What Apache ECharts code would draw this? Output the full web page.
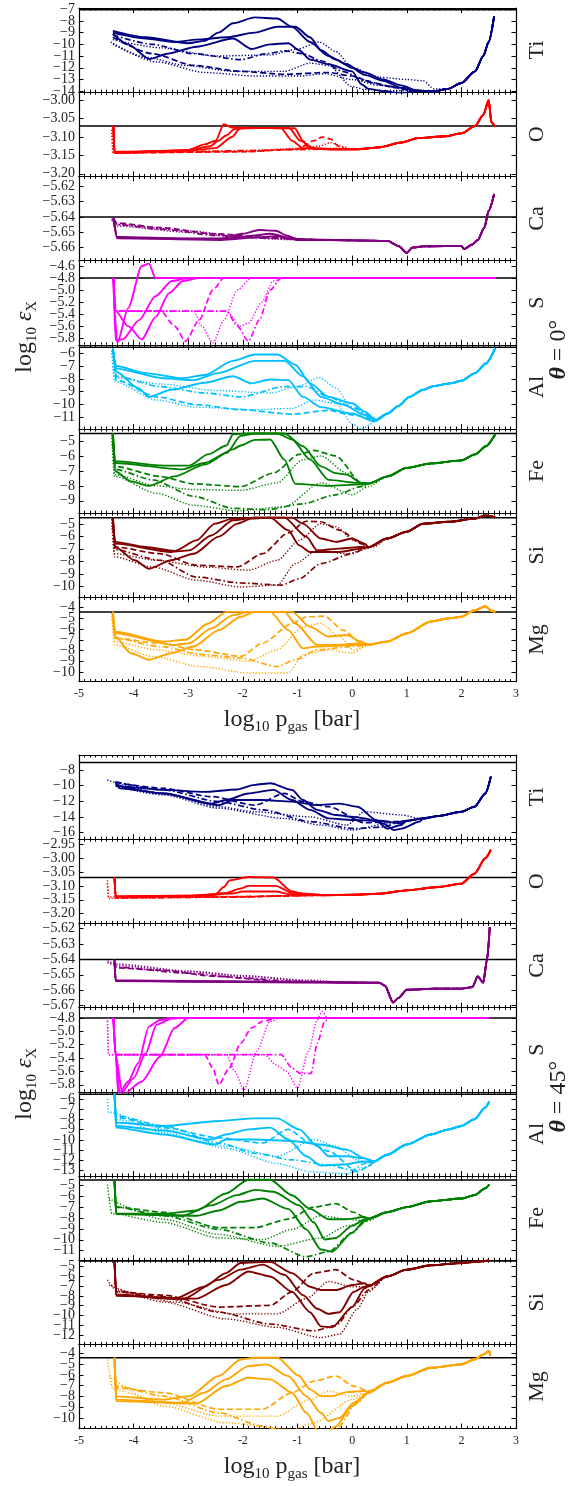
<!DOCTYPE html>
<html>
<head>
<meta charset="utf-8">
<script src="https://cdn.jsdelivr.net/npm/echarts@6.0.0/dist/echarts.min.js"></script>
<style>
html, body { margin: 0; background: #fff; }
#chart { width: 571px; height: 1486px; }
</style>
</head>
<body>
<div id="chart"></div>
<script>
// ---------- data: theta = 0 deg ----------
const ti0 = [
  [[-4.38,-8.85],[-3.78,-9.4],[-3.0,-9.9],[-2.7,-9.7],[-2.45,-9.0],[-2.18,-8.2],[-1.78,-7.7],[-1.37,-7.8],[-1.1,-8.5],[-0.77,-9.8],[-0.43,-11.0],[-0.1,-11.7],[0.23,-12.6],[0.57,-13.1],[0.9,-13.7]],
  [[-4.38,-9.0],[-3.78,-9.5],[-3.25,-9.8],[-2.85,-9.6],[-2.3,-9.4],[-1.78,-9.0],[-1.37,-8.5],[-1.04,-8.5],[-0.77,-9.4],[-0.57,-10.5],[-0.3,-11.3],[0.0,-12.0],[0.23,-12.4],[0.57,-13.0],[0.9,-13.5]],
  [[-4.38,-9.1],[-4.1,-10.0],[-3.71,-11.25],[-3.38,-10.8],[-2.85,-10.2],[-2.18,-9.5],[-1.84,-10.4],[-1.5,-10.0],[-1.17,-9.9],[-0.97,-10.5],[-0.77,-11.3],[-0.43,-11.7],[0.0,-12.3],[0.17,-13.4],[0.3,-13.8],[0.6,-14.0],[0.9,-14.2]],
  [[-4.38,-9.2],[-3.65,-10.0],[-2.9,-10.8],[-2.04,-11.3],[-1.57,-10.8],[-1.24,-10.55],[-0.9,-10.8],[-0.57,-11.4],[-0.17,-12.3],[0.23,-13.1],[0.64,-13.55],[1.0,-13.85]],
  [[-4.38,-9.4],[-3.65,-10.8],[-2.9,-11.8],[-2.04,-12.3],[-1.24,-12.55],[-0.43,-12.4],[0.0,-12.7],[0.4,-13.3],[0.8,-13.7]],
  [[-4.42,-9.8],[-3.78,-11.1],[-3.05,-11.8],[-2.18,-12.3],[-1.24,-12.3],[-0.77,-11.6],[-0.43,-11.8],[0.0,-13.6],[0.23,-13.85],[0.6,-13.95]],
  [[-4.38,-10.0],[-3.58,-11.5],[-2.7,-12.4],[-1.78,-12.7],[-0.97,-12.7],[-0.5,-12.5],[0.0,-13.0],[0.5,-13.5]],
  [[-4.38,-9.6],[-3.5,-10.3],[-2.5,-11.0],[-1.5,-10.9],[-1.0,-10.4],[-0.6,-9.8],[-0.3,-10.6],[0.0,-12.0],[0.5,-12.8],[1.0,-13.0],[1.3,-13.1],[1.5,-13.8]]
];
const ti0Tail = [[1.2,-13.95],[1.5,-14.0],[1.75,-13.8],[2.0,-13.3],[2.25,-12.3],[2.4,-11.0],[2.5,-9.8],[2.6,-7.6]];

const o0 = [
  [[-4.37,-3.07],[-4.35,-3.14],[-3.5,-3.138],[-3.0,-3.135],[-2.7,-3.12],[-2.5,-3.11],[-2.35,-3.065],[-2.2,-3.074],[-1.7,-3.075],[-1.3,-3.076],[-1.1,-3.11],[-0.9,-3.13],[-0.5,-3.133]],
  [[-4.37,-3.07],[-4.35,-3.142],[-3.0,-3.136],[-2.6,-3.125],[-2.45,-3.11],[-2.3,-3.095],[-2.15,-3.078],[-1.8,-3.075],[-1.15,-3.076],[-0.95,-3.11],[-0.7,-3.13],[-0.4,-3.133]],
  [[-4.37,-3.07],[-4.35,-3.143],[-3.0,-3.137],[-2.5,-3.13],[-2.2,-3.1],[-2.05,-3.076],[-1.5,-3.075],[-1.05,-3.076],[-0.9,-3.11],[-0.8,-3.13],[-0.4,-3.133]],
  [[-4.37,-3.07],[-4.35,-3.143],[-3.0,-3.14],[-2.0,-3.137],[-1.0,-3.134],[-0.5,-3.133]],
  [[-4.37,-3.07],[-4.35,-3.143],[-2.0,-3.14],[-1.0,-3.133],[-0.7,-3.11],[-0.55,-3.10],[-0.4,-3.105],[-0.25,-3.125],[-0.1,-3.133]],
  [[-4.4,-3.08],[-4.38,-3.143],[-2.0,-3.14],[-1.0,-3.133],[-0.6,-3.125],[-0.4,-3.115],[-0.2,-3.125],[0.0,-3.133]],
  [[-4.4,-3.08],[-4.38,-3.14],[-2.0,-3.138],[-1.0,-3.131],[-0.3,-3.13],[0.0,-3.133]]
];
const o0Tail = [[0.1,-3.133],[0.5,-3.128],[0.9,-3.115],[1.2,-3.103],[1.7,-3.098],[2.0,-3.09],[2.25,-3.07],[2.4,-3.04],[2.5,-3.0],[2.55,-3.06],[2.62,-3.072]];

const ca0 = [
  [[-4.37,-5.64],[-4.3,-5.653],[-3.0,-5.654],[-2.4,-5.654],[-2.0,-5.651],[-1.7,-5.6485],[-1.4,-5.649],[-1.2,-5.652],[-1.0,-5.6545]],
  [[-4.37,-5.641],[-4.3,-5.6535],[-2.4,-5.6545],[-1.9,-5.6525],[-1.5,-5.651],[-1.15,-5.6535],[-1.0,-5.655]],
  [[-4.37,-5.641],[-4.3,-5.654],[-2.4,-5.655],[-1.8,-5.6535],[-1.4,-5.6525],[-1.1,-5.6545],[-0.9,-5.655]],
  [[-4.37,-5.641],[-4.3,-5.645],[-3.5,-5.648],[-2.5,-5.652],[-1.5,-5.654],[-0.5,-5.655]],
  [[-4.37,-5.641],[-4.3,-5.644],[-3.5,-5.647],[-2.5,-5.651],[-1.5,-5.6535],[-0.5,-5.655]],
  [[-4.4,-5.642],[-4.3,-5.645],[-3.0,-5.649],[-2.0,-5.653],[-1.0,-5.6545],[-0.3,-5.655]],
  [[-4.4,-5.641],[-4.3,-5.646],[-3.0,-5.650],[-2.0,-5.6535],[-1.0,-5.655],[-0.3,-5.655]]
];
const ca0Tail = [[0.0,-5.6553],[0.65,-5.6556],[0.85,-5.659],[1.0,-5.6635],[1.1,-5.660],[1.3,-5.6592],[1.7,-5.659],[2.0,-5.659],[2.05,-5.661],[2.2,-5.658],[2.3,-5.655],[2.42,-5.647],[2.5,-5.636],[2.6,-5.625]];

const s0 = [
  [[-4.37,-4.8],[-4.35,-5.35],[-4.3,-5.88],[-4.1,-5.3],[-3.85,-4.6],[-3.72,-4.56],[-3.6,-4.8]],
  [[-4.37,-4.8],[-4.33,-5.83],[-4.2,-5.82],[-3.9,-5.5],[-3.6,-5.1],[-3.3,-4.85],[-3.0,-4.8]],
  [[-4.37,-4.8],[-4.33,-5.35],[-4.1,-5.6],[-3.85,-5.82],[-3.6,-5.45],[-3.35,-5.05],[-3.1,-4.85],[-2.8,-4.8]],
  [[-4.37,-4.8],[-4.33,-5.35],[-2.3,-5.35],[-2.1,-5.6],[-1.9,-5.85],[-1.7,-5.5],[-1.5,-5.0],[-1.3,-4.8]],
  [[-4.37,-4.8],[-4.33,-5.35],[-3.5,-5.35],[-3.25,-5.6],[-3.05,-5.85],[-2.8,-5.5],[-2.55,-5.0],[-2.35,-4.8]],
  [[-4.37,-4.8],[-4.33,-5.35],[-2.9,-5.35],[-2.75,-5.6],[-2.55,-5.88],[-2.35,-5.5],[-2.1,-5.0],[-1.85,-4.8]],
  [[-4.37,-4.8],[-4.33,-5.35],[-2.3,-5.35],[-2.05,-5.6],[-1.9,-5.55],[-1.65,-5.2],[-1.45,-4.85],[-1.25,-4.8]]
];
const s0Tail = [[2.62,-4.8]];

const al0 = [
  [[-4.38,-5.6],[-4.35,-6.6],[-4.32,-7.0],[-3.78,-7.55],[-3.11,-7.95],[-2.7,-7.7],[-2.18,-6.6],[-1.78,-6.1],[-1.37,-6.1],[-1.04,-6.9],[-0.77,-8.35],[-0.43,-9.4],[0.0,-9.9],[0.23,-10.55],[0.44,-11.2]],
  [[-4.38,-5.6],[-4.32,-7.2],[-3.45,-7.95],[-2.9,-8.1],[-2.45,-7.55],[-1.78,-6.6],[-1.24,-6.6],[-0.9,-7.8],[-0.57,-9.4],[-0.17,-10.0],[0.23,-10.8],[0.44,-11.3]],
  [[-4.38,-5.6],[-4.32,-7.45],[-3.92,-8.7],[-3.72,-9.4],[-3.31,-8.85],[-2.7,-8.3],[-2.18,-7.8],[-1.84,-8.35],[-1.5,-8.05],[-1.17,-8.1],[-0.9,-9.4],[-0.57,-10.2],[0.0,-10.7],[0.4,-11.3]],
  [[-4.38,-5.6],[-4.32,-7.8],[-3.52,-8.6],[-2.7,-9.1],[-2.04,-9.4],[-1.24,-8.6],[-0.84,-8.6],[-0.43,-9.4],[0.0,-10.2],[0.4,-11.0]],
  [[-4.38,-5.6],[-4.32,-8.1],[-3.58,-9.4],[-2.85,-10.0],[-2.04,-10.4],[-1.1,-10.75],[-0.43,-10.45],[0.0,-10.8],[0.4,-11.1]],
  [[-4.4,-5.8],[-4.35,-8.2],[-3.58,-9.65],[-2.85,-10.2],[-1.78,-10.4],[-1.1,-10.3],[-0.7,-9.65],[-0.3,-9.9],[0.0,-11.5],[0.17,-11.9],[0.4,-11.4]],
  [[-4.4,-5.8],[-4.35,-7.9],[-3.5,-8.4],[-2.5,-8.9],[-1.5,-9.1],[-1.0,-8.6],[-0.6,-7.9],[-0.3,-8.7],[0.0,-10.3],[0.4,-11.1]]
];
const al0Tail = [[0.45,-11.2],[0.65,-10.7],[0.85,-10.1],[1.05,-9.4],[1.3,-8.85],[1.5,-8.55],[1.8,-8.35],[2.0,-8.15],[2.25,-7.55],[2.45,-6.8],[2.62,-5.6]];

const fe0 = [
  [[-4.38,-4.5],[-4.34,-6.35],[-3.45,-6.65],[-2.98,-6.65],[-2.64,-5.9],[-2.3,-5.3],[-2.18,-4.55],[-1.9,-4.5],[-1.24,-4.5],[-0.9,-5.35],[-0.57,-6.7],[-0.3,-7.15],[-0.1,-7.25],[0.17,-7.8]],
  [[-4.38,-4.5],[-4.34,-6.47],[-3.11,-6.9],[-2.7,-6.47],[-2.3,-5.8],[-2.04,-4.66],[-1.78,-4.5],[-1.37,-4.5],[-1.1,-4.9],[-0.77,-6.25],[-0.43,-7.6],[0.1,-7.8]],
  [[-4.38,-4.5],[-4.34,-7.03],[-4.05,-7.7],[-3.72,-8.0],[-3.25,-7.37],[-2.7,-6.58],[-2.18,-5.56],[-2.04,-5.3],[-1.78,-4.93],[-1.5,-4.9],[-1.24,-6.25],[-1.04,-7.87],[-0.43,-8.0],[0.17,-7.9]],
  [[-4.38,-4.5],[-4.34,-6.9],[-3.65,-7.6],[-2.9,-8.7],[-2.18,-9.5],[-1.57,-9.6],[-0.9,-9.2],[-0.3,-8.6],[0.17,-8.05]],
  [[-4.38,-4.5],[-4.34,-6.7],[-3.52,-7.37],[-2.9,-7.87],[-2.04,-8.05],[-1.44,-7.15],[-0.97,-5.9],[-0.7,-5.63],[-0.3,-6.0],[0.17,-7.8]],
  [[-4.4,-4.6],[-4.35,-7.25],[-3.58,-8.0],[-2.9,-8.25],[-2.04,-8.3],[-1.37,-7.8],[-0.9,-6.25],[-0.57,-6.0],[-0.1,-7.15],[0.23,-8.05]],
  [[-4.4,-4.6],[-4.35,-7.37],[-3.58,-8.5],[-2.9,-9.3],[-2.1,-9.67],[-1.24,-9.4],[-0.57,-7.8],[0.0,-8.6],[0.3,-8.05]]
];
const fe0Tail = [[0.3,-7.85],[0.65,-7.37],[1.0,-6.8],[1.45,-6.5],[2.0,-6.3],[2.25,-5.9],[2.45,-5.35],[2.62,-4.55]];

const si0 = [
  [[-4.38,-4.47],[-4.34,-6.42],[-3.78,-6.83],[-3.25,-7.15],[-2.85,-6.3],[-2.51,-4.95],[-2.18,-4.55],[-1.78,-4.47],[-1.1,-4.47],[-0.9,-4.95],[-0.57,-6.15],[-0.3,-6.42],[0.0,-6.15],[0.23,-6.56]],
  [[-4.38,-4.47],[-4.34,-6.56],[-3.31,-7.23],[-2.98,-7.1],[-2.58,-5.9],[-2.18,-4.68],[-1.78,-4.47],[-1.24,-4.47],[-0.84,-6.0],[-0.64,-7.1],[-0.23,-6.96],[0.17,-6.83]],
  [[-4.38,-4.47],[-4.34,-6.83],[-3.98,-7.9],[-3.72,-8.58],[-3.31,-7.9],[-2.9,-7.37],[-2.44,-6.0],[-2.1,-4.95],[-1.84,-4.55],[-1.5,-4.47],[-1.17,-5.48],[-0.97,-6.7],[-0.77,-7.23],[-0.23,-7.23],[0.17,-6.96]],
  [[-4.38,-4.47],[-4.34,-7.05],[-3.52,-7.9],[-2.85,-9.25],[-2.04,-9.73],[-1.3,-9.9],[-0.97,-9.4],[-0.57,-8.17],[0.0,-7.37],[0.23,-6.96]],
  [[-4.38,-4.47],[-4.34,-6.83],[-3.52,-7.37],[-2.85,-8.3],[-2.1,-8.44],[-1.64,-7.37],[-1.17,-5.7],[-0.84,-4.76],[-0.57,-4.8],[-0.23,-5.48],[0.17,-6.56]],
  [[-4.4,-4.6],[-4.35,-7.37],[-3.58,-7.9],[-2.7,-8.44],[-1.9,-8.7],[-1.37,-7.9],[-0.97,-6.3],[-0.57,-4.95],[-0.3,-5.2],[0.03,-6.3],[0.3,-6.83]],
  [[-4.4,-4.6],[-4.35,-7.63],[-3.65,-8.44],[-2.85,-9.5],[-2.04,-10.05],[-1.37,-9.9],[-1.04,-8.17],[-0.64,-7.1],[-0.1,-7.37],[0.4,-6.83]]
];
const si0Tail = [[0.3,-6.85],[0.64,-6.15],[1.0,-5.6],[1.3,-4.95],[1.77,-4.8],[2.24,-4.55],[2.44,-4.3],[2.62,-4.45]];

const mg0 = [
  [[-4.38,-4.4],[-4.34,-6.25],[-3.45,-7.17],[-3.05,-7.0],[-2.64,-5.5],[-2.3,-4.4],[-1.1,-4.4],[-0.77,-5.8],[-0.43,-6.7],[-0.1,-6.55],[0.17,-7.17]],
  [[-4.38,-4.4],[-4.34,-6.4],[-3.25,-7.48],[-2.98,-7.32],[-2.58,-5.94],[-2.18,-4.7],[-1.9,-4.4],[-1.24,-4.4],[-1.04,-5.48],[-0.64,-7.48],[-0.23,-7.48],[0.17,-7.32]],
  [[-4.38,-4.4],[-4.34,-6.7],[-4.05,-8.25],[-3.72,-8.86],[-3.31,-8.25],[-2.9,-7.63],[-2.44,-6.1],[-2.04,-4.86],[-1.78,-4.4],[-1.5,-4.4],[-1.17,-6.1],[-0.9,-7.8],[-0.64,-7.63],[0.1,-7.48]],
  [[-4.38,-4.4],[-4.34,-6.86],[-3.52,-7.63],[-2.71,-8.4],[-2.04,-8.7],[-1.37,-9.5],[-1.04,-8.86],[-0.64,-7.94],[0.0,-7.63]],
  [[-4.38,-4.4],[-4.34,-6.86],[-3.52,-7.32],[-2.85,-7.94],[-2.04,-8.55],[-1.64,-7.32],[-1.1,-5.48],[-0.84,-4.86],[-0.5,-4.8],[-0.17,-6.1],[0.17,-7.32]],
  [[-4.4,-4.5],[-4.35,-7.17],[-3.58,-7.94],[-2.71,-8.55],[-1.9,-9.0],[-1.37,-7.94],[-0.9,-5.8],[-0.57,-5.48],[-0.23,-6.7],[0.03,-7.94],[0.3,-7.48]],
  [[-4.4,-4.5],[-4.35,-7.48],[-3.65,-8.55],[-2.78,-9.5],[-1.9,-10.1],[-1.17,-10.1],[-0.9,-8.4],[-0.43,-7.94],[0.0,-8.25],[0.3,-7.48]]
];
const mg0Tail = [[0.3,-7.45],[0.64,-7.17],[1.0,-6.4],[1.44,-5.3],[1.77,-5.0],[2.0,-4.86],[2.24,-4.25],[2.44,-3.88],[2.55,-4.3],[2.62,-4.4]];

// ---------- data: theta = 45 deg ----------
const ti45 = [
  [[-4.33,-9.5],[-4.25,-10.1],[-3.45,-10.55],[-2.71,-10.8],[-2.11,-10.5],[-1.78,-9.9],[-1.5,-9.7],[-1.1,-10.55],[-0.9,-11.85],[-0.64,-13.1],[-0.3,-13.77],[0.03,-14.0],[0.23,-14.2],[0.57,-14.85],[0.77,-15.7],[0.9,-15.5],[1.24,-14.6]],
  [[-4.33,-9.7],[-4.25,-10.35],[-3.45,-11.0],[-2.58,-12.3],[-2.31,-11.85],[-1.9,-11.0],[-1.44,-10.55],[-1.1,-11.85],[-0.77,-13.1],[-0.43,-14.2],[0.0,-14.4],[0.5,-14.5],[0.9,-14.85]],
  [[-4.33,-9.9],[-3.45,-11.0],[-2.44,-12.5],[-2.18,-11.85],[-1.64,-11.85],[-1.1,-12.05],[-0.64,-12.5],[-0.23,-12.3],[0.1,-12.7],[0.44,-14.4],[0.64,-15.5],[0.9,-15.05]],
  [[-4.33,-9.5],[-3.45,-10.55],[-2.44,-12.05],[-1.64,-13.1],[-0.77,-14.6],[0.03,-15.5],[0.57,-15.3],[0.9,-14.6]],
  [[-4.33,-9.6],[-3.45,-10.35],[-2.58,-11.4],[-1.78,-12.5],[-1.24,-11.0],[-0.9,-12.05],[-0.43,-12.7],[0.23,-14.75],[0.77,-14.6]],
  [[-4.48,-9.3],[-3.45,-11.0],[-2.44,-12.7],[-1.78,-13.35],[-0.77,-14.0],[-0.1,-15.05],[0.23,-13.35],[0.9,-13.75],[1.24,-14.2]],
  [[-4.33,-10.1],[-3.45,-11.2],[-2.44,-12.9],[-1.24,-14.2],[-0.57,-15.05],[0.0,-15.7],[0.64,-14.85]]
];
const ti45Tail = [[1.0,-14.5],[1.3,-14.2],[1.57,-13.9],[2.0,-13.35],[2.24,-12.7],[2.44,-11.0],[2.54,-8.85]];

const o45 = [
  [[-4.35,-3.07],[-4.33,-3.138],[-3.0,-3.135],[-2.5,-3.13],[-2.35,-3.104],[-2.24,-3.08],[-1.9,-3.068],[-1.44,-3.07],[-1.1,-3.12],[-0.9,-3.128],[-0.5,-3.133]],
  [[-4.35,-3.07],[-4.33,-3.138],[-2.8,-3.135],[-2.3,-3.125],[-2.05,-3.11],[-1.9,-3.10],[-1.4,-3.10],[-1.1,-3.125],[-0.5,-3.133]],
  [[-4.35,-3.07],[-4.33,-3.14],[-2.8,-3.136],[-2.2,-3.128],[-2.0,-3.12],[-1.4,-3.12],[-1.15,-3.13],[-0.5,-3.134]],
  [[-4.35,-3.07],[-4.33,-3.142],[-2.5,-3.14],[-1.5,-3.137],[-0.5,-3.134]],
  [[-4.35,-3.07],[-4.33,-3.143],[-2.0,-3.14],[-1.2,-3.136],[-0.5,-3.133]],
  [[-4.48,-3.09],[-4.46,-3.145],[-2.0,-3.14],[-1.0,-3.135],[-0.5,-3.133]],
  [[-4.48,-3.08],[-4.46,-3.14],[-2.0,-3.138],[-1.0,-3.135],[-0.5,-3.133]]
];
const o45Tail = [[0.0,-3.132],[0.5,-3.128],[1.0,-3.116],[1.57,-3.104],[2.0,-3.092],[2.24,-3.056],[2.44,-3.0],[2.54,-2.97]];

const ca45 = [
  [[-4.35,-5.64],[-4.33,-5.6535],[-3.0,-5.654],[-1.0,-5.6545],[0.0,-5.655]],
  [[-4.35,-5.64],[-4.33,-5.654],[-3.0,-5.6545],[-1.0,-5.655],[0.0,-5.6552]],
  [[-4.35,-5.641],[-4.33,-5.6538],[-2.0,-5.6545],[0.0,-5.655]],
  [[-4.35,-5.642],[-4.33,-5.645],[-3.0,-5.649],[-2.0,-5.652],[-1.2,-5.654],[0.0,-5.655]],
  [[-4.35,-5.642],[-4.33,-5.6455],[-3.5,-5.647],[-2.5,-5.651],[-1.2,-5.6545],[0.0,-5.655]],
  [[-4.48,-5.642],[-4.3,-5.644],[-3.0,-5.648],[-2.0,-5.651],[-0.8,-5.654],[0.0,-5.655]],
  [[-4.48,-5.641],[-4.3,-5.643],[-3.0,-5.6475],[-2.0,-5.6505],[-0.8,-5.6535],[0.0,-5.655]]
];
const ca45Tail = [[0.5,-5.6552],[0.6,-5.657],[0.75,-5.668],[0.85,-5.665],[1.0,-5.6597],[1.5,-5.659],[2.0,-5.659],[2.2,-5.658],[2.3,-5.651],[2.4,-5.655],[2.47,-5.64],[2.52,-5.619]];

const s45 = [
  [[-4.37,-4.8],[-4.33,-5.35],[-4.28,-5.95],[-4.1,-5.75],[-3.92,-5.48],[-3.72,-4.93],[-3.52,-4.83],[-3.3,-4.8]],
  [[-4.37,-4.8],[-4.33,-5.35],[-4.25,-5.95],[-4.0,-5.7],[-3.78,-5.33],[-3.58,-4.9],[-3.3,-4.81],[-3.1,-4.8]],
  [[-4.37,-4.8],[-4.33,-5.35],[-4.2,-5.95],[-3.85,-5.75],[-3.52,-5.38],[-3.25,-4.95],[-3.0,-4.8]],
  [[-4.37,-4.8],[-4.33,-5.35],[-1.3,-5.35],[-1.1,-5.55],[-0.95,-5.63],[-0.75,-5.63],[-0.64,-5.18],[-0.5,-4.85],[-0.4,-4.8]],
  [[-4.37,-4.8],[-4.33,-5.35],[-2.7,-5.35],[-2.55,-5.55],[-2.44,-5.8],[-2.25,-5.55],[-2.04,-5.18],[-1.84,-4.95],[-1.64,-4.85],[-1.37,-4.8]],
  [[-4.48,-4.8],[-4.46,-5.35],[-2.3,-5.35],[-2.15,-5.6],[-1.98,-5.88],[-1.75,-5.3],[-1.5,-4.85],[-1.3,-4.8]],
  [[-4.48,-4.8],[-4.46,-5.35],[-1.6,-5.35],[-1.4,-5.5],[-1.2,-5.6],[-1.0,-5.85],[-0.8,-5.3],[-0.64,-4.83],[-0.55,-4.7],[-0.45,-4.8]]
];
const s45Tail = [[2.5,-4.8]];

const al45 = [
  [[-4.35,-5.55],[-4.32,-8.3],[-3.45,-8.64],[-2.44,-8.15],[-1.78,-7.9],[-1.37,-7.9],[-0.97,-8.97],[-0.64,-10.6],[-0.43,-11.6],[-0.1,-11.6],[0.23,-11.8]],
  [[-4.35,-5.55],[-4.32,-8.64],[-3.45,-9.1],[-2.58,-9.96],[-2.31,-9.47],[-1.9,-8.97],[-1.5,-8.8],[-1.17,-9.96],[-0.84,-11.6],[-0.57,-12.5],[-0.17,-12.4],[0.23,-12.1]],
  [[-4.35,-5.55],[-4.32,-8.8],[-3.45,-9.47],[-2.51,-10.45],[-2.31,-9.96],[-1.78,-9.96],[-1.1,-10.1],[-0.57,-10.45],[-0.1,-10.95],[0.23,-11.8]],
  [[-4.35,-5.55],[-4.32,-7.65],[-3.45,-8.64],[-2.44,-10.3],[-1.78,-11.3],[-1.1,-11.95],[-0.43,-12.45],[0.0,-12.95],[0.23,-12.3]],
  [[-4.35,-5.55],[-4.32,-7.8],[-3.45,-8.8],[-2.44,-9.8],[-1.64,-10.3],[-1.17,-8.97],[-0.77,-10.3],[-0.43,-11.1],[0.1,-13.1],[0.3,-12.6]],
  [[-4.48,-6.0],[-4.46,-7.3],[-3.45,-8.97],[-2.31,-10.6],[-1.37,-11.6],[-0.7,-9.96],[-0.3,-10.6],[0.1,-11.95],[0.37,-12.3]],
  [[-4.35,-5.6],[-4.32,-7.98],[-3.45,-9.3],[-2.31,-10.8],[-1.37,-12.3],[-0.77,-13.1],[-0.1,-13.3],[0.37,-12.45]]
];
const al45Tail = [[0.4,-12.1],[0.64,-11.45],[1.0,-10.45],[1.44,-9.47],[1.77,-8.97],[2.0,-8.64],[2.24,-7.98],[2.44,-6.83],[2.51,-6.26]];

const fe45 = [
  [[-4.35,-4.5],[-4.32,-7.6],[-3.45,-7.6],[-2.85,-7.3],[-2.31,-5.73],[-1.9,-4.46],[-1.5,-4.46],[-1.1,-5.9],[-0.77,-7.15],[-0.43,-8.1],[-0.1,-8.1],[0.23,-7.9]],
  [[-4.35,-4.5],[-4.32,-7.6],[-3.11,-7.78],[-2.58,-6.83],[-2.11,-5.88],[-1.78,-5.4],[-1.44,-5.57],[-0.97,-6.83],[-0.7,-8.4],[-0.5,-9.98],[-0.3,-9.83],[0.0,-8.72],[0.23,-8.1]],
  [[-4.35,-4.5],[-4.32,-7.6],[-2.85,-7.78],[-2.44,-7.3],[-2.04,-6.5],[-1.64,-6.2],[-1.17,-7.15],[-0.84,-9.04],[-0.57,-10.9],[-0.37,-11.1],[0.0,-9.35],[0.23,-8.25]],
  [[-4.35,-4.5],[-4.32,-6.99],[-3.45,-7.78],[-2.44,-9.04],[-1.5,-10.3],[-0.84,-11.56],[-0.43,-11.1],[0.0,-9.35],[0.23,-8.4]],
  [[-4.35,-4.5],[-4.32,-6.99],[-3.45,-7.46],[-2.44,-8.88],[-1.78,-8.88],[-1.17,-8.1],[-0.7,-6.99],[-0.3,-6.67],[0.03,-7.46],[0.3,-8.1]],
  [[-4.48,-4.9],[-4.4,-7.6],[-3.45,-8.4],[-2.44,-9.83],[-1.64,-9.98],[-1.1,-9.04],[-0.57,-7.78],[-0.1,-8.1],[0.23,-8.25]],
  [[-4.45,-6.2],[-3.45,-8.1],[-2.44,-9.5],[-1.37,-10.6],[-0.57,-9.83],[-0.1,-8.72],[0.3,-8.25]]
];
const fe45Tail = [[0.3,-8.05],[0.64,-7.46],[1.0,-6.99],[1.44,-6.45],[2.0,-6.2],[2.24,-5.88],[2.44,-5.25],[2.51,-4.9]];

const si45 = [
  [[-4.35,-4.47],[-4.32,-7.86],[-3.25,-8.28],[-2.71,-7.07],[-2.31,-5.69],[-2.04,-4.66],[-1.5,-4.55],[-1.1,-5.69],[-0.77,-7.07],[-0.57,-7.41],[-0.3,-7.41],[0.0,-6.9],[0.23,-6.72]],
  [[-4.35,-4.47],[-4.32,-7.93],[-3.11,-8.34],[-2.44,-6.38],[-2.04,-5.34],[-1.64,-4.83],[-1.24,-5.86],[-0.9,-7.93],[-0.64,-9.31],[-0.43,-9.83],[-0.23,-9.66],[0.03,-7.59],[0.23,-7.07]],
  [[-4.35,-4.47],[-4.32,-8.0],[-2.85,-8.28],[-2.31,-6.9],[-1.9,-5.52],[-1.5,-6.03],[-1.1,-7.59],[-0.77,-9.66],[-0.57,-11.1],[-0.37,-11.2],[0.0,-9.14],[0.23,-7.24]],
  [[-4.35,-4.47],[-4.32,-7.59],[-3.45,-8.1],[-2.44,-9.66],[-1.5,-10.86],[-0.7,-11.55],[-0.3,-11.03],[0.03,-8.97],[0.3,-7.41]],
  [[-4.35,-4.47],[-4.32,-7.59],[-3.45,-7.93],[-2.44,-9.14],[-1.5,-8.97],[-1.1,-7.59],[-0.7,-5.69],[-0.3,-5.34],[0.03,-6.38],[0.3,-6.9]],
  [[-4.48,-6.38],[-4.32,-7.41],[-3.25,-8.62],[-2.18,-9.83],[-1.37,-9.83],[-0.84,-8.28],[-0.43,-6.55],[0.0,-7.07],[0.3,-7.07]],
  [[-4.45,-6.9],[-3.45,-8.62],[-2.31,-10.34],[-1.37,-11.2],[-0.57,-12.24],[-0.23,-11.9],[0.1,-9.31],[0.3,-7.59]]
];
const si45Tail = [[0.3,-7.0],[0.64,-6.03],[1.0,-5.34],[1.44,-4.9],[2.0,-4.66],[2.3,-4.52],[2.51,-4.4]];

const mg45 = [
  [[-4.35,-4.4],[-4.32,-8.0],[-3.45,-8.3],[-2.98,-7.98],[-2.44,-6.1],[-2.04,-4.56],[-1.78,-4.4],[-1.37,-4.4],[-0.97,-6.1],[-0.77,-7.35],[-0.57,-7.98],[-0.37,-7.98],[-0.1,-7.6],[0.23,-7.5]],
  [[-4.35,-4.4],[-4.32,-8.3],[-3.11,-8.6],[-2.71,-7.66],[-2.31,-6.42],[-1.9,-5.18],[-1.57,-5.02],[-1.17,-6.1],[-0.84,-7.98],[-0.57,-9.53],[-0.43,-10.3],[-0.23,-10.0],[0.03,-8.6],[0.3,-7.66]],
  [[-4.35,-4.4],[-4.32,-8.44],[-2.85,-8.66],[-2.31,-7.04],[-1.9,-6.27],[-1.5,-6.42],[-1.1,-7.66],[-0.84,-9.53],[-0.57,-11.7],[-0.3,-10.8],[0.0,-8.9],[0.3,-7.66]],
  [[-4.35,-4.4],[-4.32,-7.04],[-3.45,-7.98],[-2.44,-9.53],[-1.64,-10.77],[-0.9,-12.0],[-0.3,-11.1],[0.1,-8.6],[0.3,-7.66]],
  [[-4.35,-4.4],[-4.32,-7.2],[-3.45,-7.66],[-2.44,-9.2],[-1.64,-9.2],[-1.1,-7.66],[-0.7,-6.58],[-0.3,-6.1],[0.03,-7.04],[0.3,-7.5]],
  [[-4.48,-4.56],[-4.38,-7.35],[-3.45,-8.6],[-2.44,-9.84],[-1.37,-9.84],[-0.77,-8.3],[-0.43,-7.5],[0.0,-7.98],[0.3,-7.66]],
  [[-4.45,-6.1],[-3.45,-8.9],[-2.31,-10.46],[-1.1,-11.1],[-0.7,-10.46],[0.0,-8.3],[0.3,-7.66]]
];
const mg45Tail = [[0.3,-7.6],[0.64,-6.73],[1.0,-6.1],[1.44,-5.34],[2.0,-5.02],[2.24,-4.56],[2.4,-4.1],[2.51,-3.78],[2.53,-4.2]];

// ---------- axes / labels ----------
const elements = ['Ti', 'O', 'Ca', 'S', 'Al', 'Fe', 'Si', 'Mg'];
const angleLabels = ['0°', '45°'];
const refLevels = [-7.05, -3.07, -5.64, -4.8, -5.55, -4.5, -4.47, -4.4];
const yDecimals = [0, 2, 2, 1, 0, 0, 0, 0];

const yTicks0 = [
  [-14, -13, -12, -11, -10, -9, -8, -7],
  [-3.20, -3.15, -3.10, -3.05, -3.00],
  [-5.66, -5.65, -5.64, -5.63, -5.62],
  [-5.8, -5.6, -5.4, -5.2, -5.0, -4.8, -4.6],
  [-11, -10, -9, -8, -7, -6],
  [-9, -8, -7, -6, -5],
  [-10, -9, -8, -7, -6, -5],
  [-10, -9, -8, -7, -6, -5, -4]
];
const yTicks45 = [
  [-16, -14, -12, -10, -8],
  [-3.20, -3.15, -3.10, -3.05, -3.00, -2.95],
  [-5.67, -5.66, -5.65, -5.64, -5.63, -5.62],
  [-5.8, -5.6, -5.4, -5.2, -5.0, -4.8],
  [-13, -12, -11, -10, -9, -8, -7, -6],
  [-11, -10, -9, -8, -7, -6, -5],
  [-12, -11, -10, -9, -8, -7, -6, -5],
  [-10, -9, -8, -7, -6, -5, -4]
];
const yRange0 = [[-14.08, -6.9], [-3.207, -2.978], [-5.6685, -5.6135], [-5.91, -4.51], [-11.9, -5.35], [-9.83, -4.2], [-10.89, -4.11], [-10.9, -3.05]];
const yRange45 = [[-16.86, -6.08], [-3.235, -2.932], [-5.6713, -5.6166], [-5.905, -4.645], [-13.52, -5.31], [-11.88, -4.12], [-12.93, -4.38], [-11.0, -3.16]];

const groups = [
  { heads: [ti0, o0, ca0, s0, al0, fe0, si0, mg0], tails: [ti0Tail, o0Tail, ca0Tail, s0Tail, al0Tail, fe0Tail, si0Tail, mg0Tail], ticks: yTicks0, ranges: yRange0 },
  { heads: [ti45, o45, ca45, s45, al45, fe45, si45, mg45], tails: [ti45Tail, o45Tail, ca45Tail, s45Tail, al45Tail, fe45Tail, si45Tail, mg45Tail], ticks: yTicks45, ranges: yRange45 }
];

// ---------- styling ----------
const colors = ['#000080', '#ff0000', '#800080', '#ff00ff', '#00bfff', '#008000', '#800000', '#ffa500'];
const lineKinds = ['solid', 'solid', 'solid', 'dashdot', 'dashed', 'dotted', 'dotted', 'dotted'];
const kindStyle = {
  solid: { type: 'solid', width: 1.9 },
  dashdot: { type: [6, 2.5, 1.5, 2.5], width: 1.7 },
  dashed: { type: [6, 3], width: 1.7 },
  dotted: { type: [1.3, 1.8], width: 1.4 }
};
const serif = "'Liberation Serif', 'DejaVu Serif', serif";
const plotLeft = 79, plotWidth = 437;
const groupTop = [8, 755];
const panelH = 84.2;

function joinTail(head, tail) {
  const lastX = head[head.length - 1][0];
  return head.concat(tail.filter(p => p[0] > lastX));
}
function fmt(v, d) {
  return v.toFixed(d).replace('-', '\u2212');
}

const grids = [], xAxes = [], yAxes = [], series = [], graphics = [];
const tickLine = { color: '#000', width: 1 };
const frame = { show: true, onZero: false, lineStyle: { color: '#000', width: 1.2 } };

groups.forEach((grp, g) => {
  elements.forEach((el, i) => {
    const k = g * 8 + i;
    const top = groupTop[g] + i * panelH;
    const last = i === 7;
    grids.push({ left: plotLeft, width: plotWidth, top: top, height: panelH });

    ['bottom', 'top'].forEach(pos => {
      xAxes.push({
        gridIndex: k, type: 'value', position: pos, min: -5, max: 3, interval: 1,
        axisLine: frame,
        axisTick: { show: true, inside: true, length: 5, lineStyle: tickLine },
        minorTick: { show: true, splitNumber: 10, length: 2.5, lineStyle: tickLine },
        splitLine: { show: false },
        axisLabel: {
          show: pos === 'bottom' && last, margin: 6,
          showMinLabel: true, showMaxLabel: true,
          fontFamily: serif, fontSize: 12, color: '#222',
          formatter: v => String(v)
        }
      });
    });

    // y axes: left (frame + ticks + every other label), right (frame + ticks),
    // and a bare left axis carrying the remaining labels so none get culled
    const ticks = grp.ticks[i];
    const labelSets = [ticks.filter((_, n) => n % 2 === 0), [], ticks.filter((_, n) => n % 2 === 1)];
    ['left', 'right', 'left'].forEach((pos, n) => {
      yAxes.push({
        gridIndex: k, type: 'value', position: pos, offset: 0,
        min: grp.ranges[i][0], max: grp.ranges[i][1],
        axisLine: n < 2 ? frame : { show: false, onZero: false },
        axisTick: { show: n < 2, inside: true, length: 4.5, lineStyle: tickLine, customValues: ticks },
        splitLine: { show: false },
        axisLabel: {
          show: n !== 1, customValues: labelSets[n].length ? labelSets[n] : ticks, margin: 4,
          showMinLabel: true, showMaxLabel: true,
          fontFamily: serif, fontSize: 14, color: '#222',
          formatter: v => fmt(v, yDecimals[i])
        }
      });
    });

    // solar reference level
    series.push({
      type: 'line', xAxisIndex: 2 * k, yAxisIndex: 3 * k,
      data: [[-5, refLevels[i]], [3, refLevels[i]]],
      symbol: 'none', silent: true, z: 1,
      lineStyle: { color: '#000', width: 1.5 }
    });

    grp.heads[i].forEach((head, j) => {
      const ks = kindStyle[lineKinds[j]];
      series.push({
        type: 'line', xAxisIndex: 2 * k, yAxisIndex: 3 * k,
        data: joinTail(head, grp.tails[i]),
        smooth: 0.25, smoothMonotone: 'x',
        symbol: 'none', clip: true, silent: true, z: 2 + (lineKinds[j] === 'solid' ? 1 : 0),
        lineStyle: { color: colors[i], width: ks.width, type: ks.type }
      });
    });

    graphics.push({
      type: 'text', x: 537, y: top + panelH / 2, rotation: Math.PI / 2,
      style: { text: el, font: '22px ' + serif, fill: '#222', align: 'center', verticalAlign: 'middle' }
    });
  });

  const mid = groupTop[g] + 4 * panelH;
  const rich = {
    m: { fontFamily: serif, fontSize: 24, lineHeight: 30, color: '#222' },
    i: { fontFamily: serif, fontSize: 24, lineHeight: 30, fontStyle: 'italic', color: '#222' },
    s: { fontFamily: serif, fontSize: 15, lineHeight: 15, verticalAlign: 'bottom', color: '#222' },
    t: { fontFamily: serif, fontSize: 24, lineHeight: 30, fontStyle: 'italic', fontWeight: 'bold', color: '#222' }
  };
  graphics.push({
    type: 'text', x: 25, y: mid - 8, rotation: Math.PI / 2,
    style: { text: '{m|log}{s|10}{m| }{i|\u03b5}{s|X}', rich: rich, fill: '#222', align: 'center', verticalAlign: 'middle' }
  });
  graphics.push({
    type: 'text', x: 559, y: mid + 5, rotation: Math.PI / 2,
    style: { text: '{t|\u03b8}{m| = ' + angleLabels[g] + '}', rich: rich, fill: '#222', align: 'center', verticalAlign: 'middle' }
  });
  graphics.push({
    type: 'text', x: 292, y: groupTop[g] + 8 * panelH + 38,
    style: { text: '{m|log}{s|10}{m| p}{s|gas}{m| [bar]}', rich: rich, fill: '#222', align: 'center', verticalAlign: 'middle' }
  });
});

const chart = echarts.init(document.getElementById('chart'), null, { renderer: 'canvas' });
chart.setOption({
  backgroundColor: '#fff',
  animation: false,
  grid: grids,
  xAxis: xAxes,
  yAxis: yAxes,
  series: series,
  graphic: graphics
});
</script>
</body>
</html>
